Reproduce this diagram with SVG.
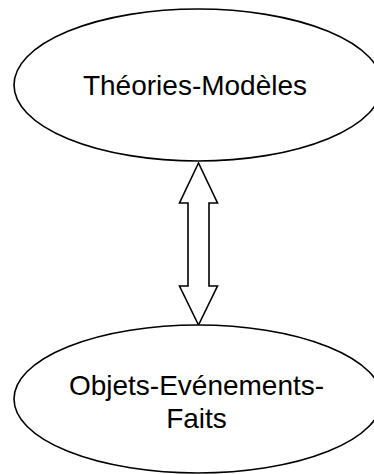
<svg xmlns="http://www.w3.org/2000/svg" width="374" height="474" viewBox="0 0 374 474">
<style>
.n{fill:#fff;stroke:#000;stroke-width:1.6}
.t{font-family:"Liberation Sans",Arial,sans-serif;font-size:28px;fill:#000;text-anchor:middle}
.c{fill:#fff;stroke:#000;stroke-width:1.6;stroke-linejoin:miter}
</style>
<rect width="374" height="474" fill="#fff"/>
<g id="connectors">
<path class="c" d="M198.5,163 L217.5,203 L209,203 L209,286 L217.5,286 L198.5,325 L179.5,286 L188,286 L188,203 L179.5,203 Z"/>
</g>
<g id="theories">
<ellipse class="n" cx="198" cy="85" rx="184" ry="76"/>
<text class="t" x="195" y="95">Théories-Modèles</text>
</g>
<g id="objets">
<ellipse class="n" cx="198" cy="399" rx="184" ry="74"/>
<text class="t" x="196.5" y="395">Objets-Evénements-</text>
<text class="t" x="196.5" y="428">Faits</text>
</g>
</svg>
